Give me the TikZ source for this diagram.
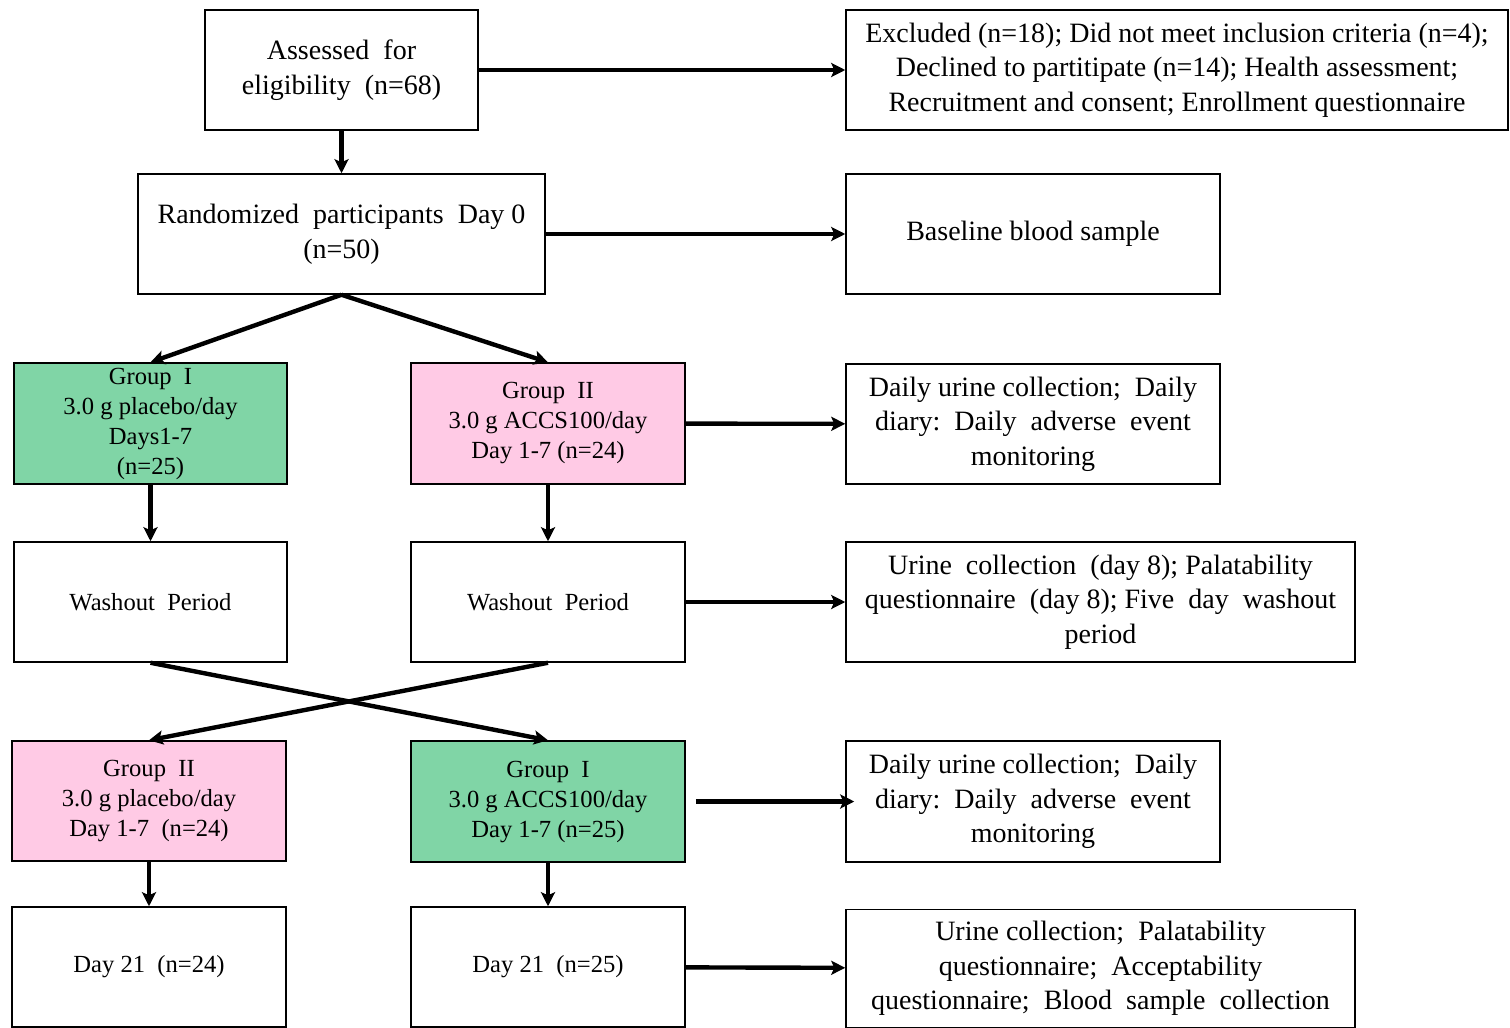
\documentclass[tikz,border=0pt]{standalone}
\usepackage{fontspec}
\setmainfont{Liberation Serif}
\usetikzlibrary{arrows.meta}
\definecolor{grpgreen}{RGB}{128,213,166}
\definecolor{grppink}{RGB}{255,202,229}
\begin{document}
\begin{tikzpicture}[>={Stealth[length=7pt,width=7pt,inset=1.5pt]},x=0.5pt,y=-0.5pt,
  box/.style={draw,line width=0.75pt,align=center,inner sep=0pt,minimum height=60pt,font=\fontsize{14}{17.3}\selectfont},
  small/.style={box,font=\fontsize{12.3}{15}\selectfont},
  flow/.style={->,line width=2.2pt}]
\useasboundingbox[fill=white] (0,0) rectangle (1510,1028);
\node[box,minimum width=136.5pt] (assess) at (341.5,70) {Assessed\ \ for\\eligibility\ \ (n=68)};
\node[box,minimum width=331pt] (excl) at (1177,70) {Excluded\ (n=18);\ Did\ not\ meet\ inclusion\ criteria\ (n=4);\\Declined\ to\ partitipate\ (n=14);\ Health\ assessment;\\Recruitment\ and\ consent;\ Enrollment\ questionnaire};
\node[box,minimum width=203.5pt] (rand) at (341.5,234) {Randomized\ \ participants\ \ Day 0\\(n=50)};
\node[box,minimum width=187pt] (base) at (1033,234) {Baseline blood sample};
\node[small,fill=grpgreen,minimum width=136.5pt,minimum height=60.5pt] (grpA) at (150.5,423.5) {Group\ \ I\\3.0 g placebo/day\\Days1-7\\(n=25)};
\node[small,fill=grppink,minimum width=137pt,minimum height=60.5pt] (grpB) at (548,423.5) {Group\ \ II\\3.0 g ACCS100/day\\Day 1-7 (n=24)};
\node[box,minimum width=187pt] (diaryA) at (1033,424) {Daily\ urine\ collection;\ \ Daily\\diary:\ \ Daily\ \ adverse\ \ event\\monitoring};
\node[small,minimum width=136.5pt] (washA) at (150.5,602) {Washout\ \ Period};
\node[small,minimum width=137pt] (washB) at (548,602) {Washout\ \ Period};
\node[box,minimum width=254.5pt] (urineA) at (1100.5,602) {Urine\ \ collection\ \ (day\ 8);\ Palatability\\questionnaire\ \ (day\ 8);\ Five\ \ day\ \ washout\\period};
\node[small,fill=grppink,minimum width=137pt] (grpC) at (149,801) {Group\ \ II\\3.0 g placebo/day\\Day 1-7\ \ (n=24)};
\node[small,fill=grpgreen,minimum width=137pt,minimum height=60.5pt] (grpD) at (548,801.5) {Group\ \ I\\3.0 g ACCS100/day\\Day 1-7 (n=25)};
\node[box,minimum width=187pt,minimum height=60.5pt] (diaryB) at (1033,801.5) {Daily\ urine\ collection;\ \ Daily\\diary:\ \ Daily\ \ adverse\ \ event\\monitoring};
\node[small,minimum width=137pt] (endA) at (149,967) {Day\ 21\ \ (n=24)};
\node[small,minimum width=137pt] (endB) at (548,967) {Day\ 21\ \ (n=25)};
\node[box,minimum width=254.5pt,minimum height=59pt] (urineB) at (1100.5,968.5) {Urine\ collection;\ \ Palatability\\questionnaire;\ \ Acceptability\\questionnaire;\ \ Blood\ \ sample\ \ collection};
\draw[flow] (assess) -- (excl);
\draw[flow] (assess) -- (rand);
\draw[flow] (rand) -- (base);
\draw[flow] (rand.south) -- (grpA.north);
\draw[flow] (rand.south) -- (grpB.north);
\draw[flow] (grpB) -- (diaryA);
\draw[flow] (grpA) -- (washA);
\draw[flow] (grpB) -- (washB);
\draw[flow] (washB) -- (urineA);
\draw[flow] (washA.south) -- (grpD.north);
\draw[flow] (washB.south) -- (grpC.north);
\draw[flow,shorten <=5pt,shorten >=-4.5pt] (grpD) -- (diaryB);
\draw[flow] (grpC) -- (endA);
\draw[flow] (grpD) -- (endB);
\draw[flow] (endB) -- (urineB);
\end{tikzpicture}
\end{document}
